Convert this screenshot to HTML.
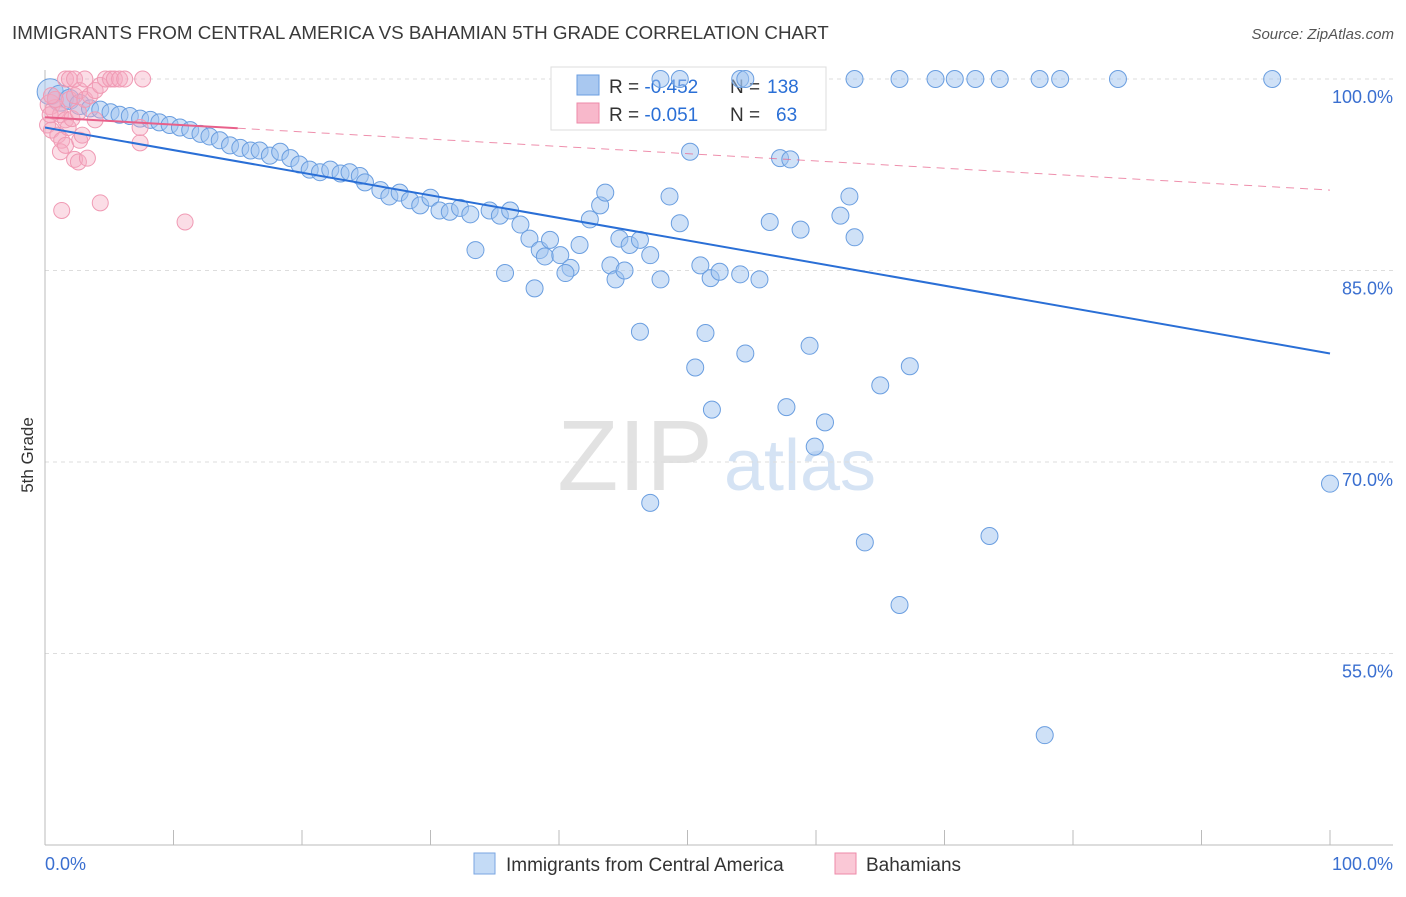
<!DOCTYPE html>
<html><head><meta charset="utf-8"><style>
body{margin:0;background:#fff;font-family:"Liberation Sans",sans-serif}
svg text{font-family:"Liberation Sans",sans-serif}
</style></head><body>
<svg id="chart" width="1406" height="892" xmlns="http://www.w3.org/2000/svg">
<text x="12" y="39" font-size="18.8" fill="#3a3a3a">IMMIGRANTS FROM CENTRAL AMERICA VS BAHAMIAN 5TH GRADE CORRELATION CHART</text>
<text x="1394" y="39" font-size="15" fill="#555" font-style="italic" text-anchor="end">Source: ZipAtlas.com</text>
<text transform="translate(33,455) rotate(-90)" font-size="17" fill="#333" text-anchor="middle">5th Grade</text>
<g>
<text x="635" y="490" font-size="100" fill="#e2e2e2" font-family="Liberation Serif" text-anchor="middle">ZIP</text>
<text x="800" y="490" font-size="72" fill="#d5e3f4" text-anchor="middle">atlas</text>
</g>
<g id="grid"></g><g id="axes"></g>
<g>
<rect x="551" y="67" width="275" height="63" fill="#fff" stroke="#ddd"/>
<rect x="577" y="75" width="22" height="20" fill="#a9c8f0" stroke="#6a9ee0"/>
<rect x="577" y="103" width="22" height="20" fill="#f8b8cb" stroke="#ee8aa8"/>
<text x="609" y="93" font-size="19" fill="#333">R = <tspan fill="#2a6fd6">-0.452</tspan><tspan x="730">N = </tspan><tspan fill="#2a6fd6" x="767">138</tspan></text>
<text x="609" y="121" font-size="19" fill="#333">R = <tspan fill="#2a6fd6">-0.051</tspan><tspan x="730">N = </tspan><tspan fill="#2a6fd6" x="776">63</tspan></text>
</g>
<g id="pts"></g><g id="lines"></g>
<g>
<rect x="474" y="853" width="21" height="21" fill="#c4dbf6" stroke="#7aa6e2"/>
<text x="506" y="871" font-size="19" fill="#333">Immigrants from Central America</text>
<rect x="835" y="853" width="21" height="21" fill="#fac8d6" stroke="#ee8aa8"/>
<text x="866" y="871" font-size="19" fill="#333">Bahamians</text>
</g>
</svg>
<script>
const blueX=[0.4,1.2,1.9,2.7,3.5,4.3,5.1,5.8,6.6,7.4,8.2,8.9,9.7,10.5,11.3,12.1,12.8,13.6,14.4,15.2,16.0,16.7,17.5,18.3,19.1,19.8,20.6,21.4,22.2,23.0,23.7,24.5,24.9,26.1,26.8,27.6,28.4,29.2,30.0,30.7,31.5,32.3,33.1,34.6,35.4,36.2,37.0,37.7,38.5,38.9,39.3,40.1,40.9,41.6,42.4,43.2,43.6,44.7,45.5,46.3,47.1,47.9,48.6,49.4,50.2,51.0,51.8,52.5,54.1,55.6,56.4,57.2,58.0,58.8,61.9,62.6,63.0,33.5,35.8,38.1,40.5,44.0,44.4,45.1,46.3,50.6,51.4,51.9,54.5,57.7,59.5,59.9,60.7,65.0,67.3,47.1,63.8,66.5,73.5,77.8,100];
const blueY=[99.0,98.5,98.4,98.0,97.7,97.6,97.4,97.2,97.1,96.9,96.8,96.6,96.4,96.2,96.0,95.7,95.5,95.2,94.8,94.6,94.4,94.4,94.0,94.3,93.8,93.3,92.9,92.7,92.9,92.6,92.7,92.4,91.9,91.3,90.8,91.1,90.5,90.1,90.7,89.7,89.6,89.9,89.4,89.7,89.3,89.7,88.6,87.5,86.6,86.1,87.4,86.2,85.2,87.0,89.0,90.1,91.1,87.5,87.0,87.4,86.2,84.3,90.8,88.7,94.3,85.4,84.4,84.9,84.7,84.3,88.8,93.8,93.7,88.2,89.3,90.8,87.6,86.6,84.8,83.6,84.8,85.4,84.3,85.0,80.2,77.4,80.1,74.1,78.5,74.3,79.1,71.2,73.1,76.0,77.5,66.8,63.7,58.8,64.2,48.6,68.3];
const topX=[47.9,49.4,54.1,54.5,63.0,66.5,69.3,70.8,72.4,74.3,77.4,79.0,83.5,95.5];
const topY=[100,100,100,100,100,100,100,100,100,100,100,100,100,100];
const pinkX=[0.4,0.8,1.2,1.6,1.9,2.3,2.7,0.2,0.5,1.0,1.3,1.8,2.1,2.6,3.1,3.5,3.9,4.3,4.7,5.1,5.4,5.8,6.2,7.6,1.6,1.9,2.3,3.1,1.2,2.3,2.6,3.3,1.6,2.7,1.3,4.3,10.9,7.4,7.4,3.9,2.9,0.8,0.4,0.5];
const pinkY=[98.0,97.6,97.2,96.8,98.4,98.7,99.1,96.4,96.0,95.6,95.2,96.2,96.9,97.4,98.4,98.7,99.1,99.5,100,100,100,100,100,100,100,100,100,100,94.3,93.7,93.5,93.8,94.8,95.2,89.7,90.3,88.8,95.0,96.2,96.8,95.6,98.4,97.2,98.7];
const yTicks=[100,85,70,55];
const xTickLabels=["0.0%","100.0%"];
const blueTrend=[96.2,78.5];
const pinkTrend=[97.0,91.3];
const NS="http://www.w3.org/2000/svg";
const X=v=>45+v*12.85, Y=v=>79+(100-v)*12.766;
function mk(tag,attrs,parent){const e=document.createElementNS(NS,tag);for(const k in attrs)e.setAttribute(k,attrs[k]);parent.appendChild(e);return e;}
const grid=document.getElementById('grid'),axes=document.getElementById('axes'),pts=document.getElementById('pts'),lines=document.getElementById('lines');
yTicks.forEach(t=>{
 const l=mk('line',{x1:45,x2:1393,y1:Y(t),y2:Y(t),stroke:'#ddd','stroke-dasharray':'4 4'},grid);
 
 
 const tx=mk('text',{x:1393,y:Y(t)+24,'font-size':18,fill:'#3a6fd0','text-anchor':'end'},axes);
 tx.textContent=t.toFixed(1)+'%';
 
 
});
const ax=mk('line',{x1:45,x2:1393,y1:845,y2:845,stroke:'#bbb'},axes);


const ay=mk('line',{x1:45,x2:45,y1:70,y2:845,stroke:'#bbb'},axes);


for(let i=0;i<=10;i++){const t=mk('line',{x1:X(i*10),x2:X(i*10),y1:830,y2:845,stroke:'#bbb'},axes);
 
 }
[[0,'start',45],[100,'end',1393]].forEach((d,i)=>{const t=mk('text',{x:d[2],y:870,'font-size':18,fill:'#3a6fd0','text-anchor':d[1]},axes);t.textContent=xTickLabels[i];
 
 });
const nB=Math.min(blueX.length,blueY.length);
for(let i=0;i<nB;i++){const r=i<2?13:(i<4?10:8.5);const c=mk('circle',{cx:X(blueX[i]),cy:Y(blueY[i]),r:r,fill:'rgba(160,196,240,0.5)',stroke:'#6a9ee0','stroke-width':1},pts);
 
 }
topX.forEach((x,i)=>{const c=mk('circle',{cx:X(x),cy:Y(topY[i]),r:8.5,fill:'rgba(160,196,240,0.5)',stroke:'#6a9ee0','stroke-width':1},pts);
 
 });
pinkX.forEach((x,i)=>{const c=mk('circle',{cx:X(x),cy:Y(pinkY[i]),r:i<2?10:8,fill:'rgba(245,170,192,0.4)',stroke:'#f09ab4','stroke-width':1},pts);
 
 });
const bl=mk('line',{x1:X(0),y1:Y(blueTrend[0]),x2:X(100),y2:Y(blueTrend[1]),stroke:'#2a6fd6','stroke-width':2},lines);


const pv=x=>pinkTrend[0]+(pinkTrend[1]-pinkTrend[0])*x/100;
const ps=mk('line',{x1:X(0),y1:Y(pv(0)),x2:X(15),y2:Y(pv(15)),stroke:'#e8608a','stroke-width':2},lines);


const pd=mk('line',{x1:X(15),y1:Y(pv(15)),x2:X(100),y2:Y(pv(100)),stroke:'#e8608a','stroke-width':1,'stroke-dasharray':'8 6',opacity:0.7},lines);


</script>
</body></html>
